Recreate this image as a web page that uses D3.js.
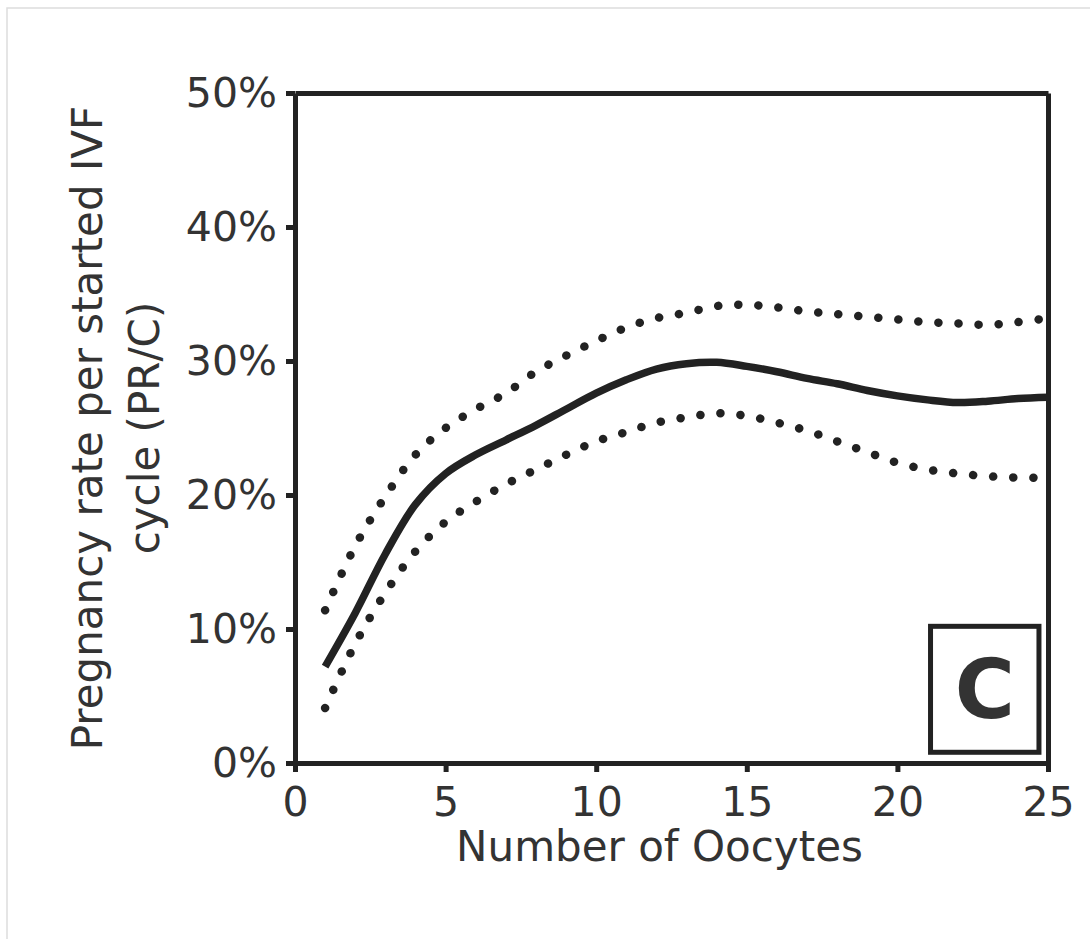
<!DOCTYPE html>
<html>
<head>
<meta charset="utf-8">
<script src="https://cdn.jsdelivr.net/npm/d3@7"></script>
<style>
  html, body { margin: 0; padding: 0; background: #fff; }
  svg { display: block; }
  text { font-family: "DejaVu Sans", Verdana, sans-serif; fill: #333; }
</style>
</head>
<body>
<svg id="chart" width="1090" height="939"></svg>
<script>
// data (x = number of oocytes, y = % pregnancy rate)
const oocytes = [1, 2, 3, 4, 5, 6, 7, 8, 9, 10, 11, 12, 13, 14, 15, 16, 17, 18, 19, 20, 21, 22, 23, 24, 25];
const meanRate = [7.2, 11.2, 15.6, 19.3, 21.6, 23.0, 24.1, 25.2, 26.4, 27.6, 28.6, 29.4, 29.8, 29.9, 29.6, 29.2, 28.7, 28.3, 27.8, 27.4, 27.1, 26.9, 27.0, 27.2, 27.3];
const upperCI = [11.4, 16.2, 19.9, 23.0, 25.0, 26.4, 27.6, 29.2, 30.4, 31.5, 32.5, 33.2, 33.6, 34.1, 34.2, 34.0, 33.7, 33.5, 33.3, 33.1, 32.9, 32.8, 32.7, 32.9, 33.2];
const lowerCI = [4.1, 8.9, 12.7, 15.8, 18.0, 19.5, 20.8, 21.9, 23.0, 24.0, 24.7, 25.4, 25.8, 26.1, 25.9, 25.4, 24.8, 24.0, 23.2, 22.4, 21.9, 21.6, 21.4, 21.3, 21.3];
const xTicks = [0, 5, 10, 15, 20, 25];
const yTicks = [0, 10, 20, 30, 40, 50];
const xTitle = 'Number of Oocytes';
const yTitle = ['Pregnancy rate per started IVF', 'cycle (PR/C)'];
const panelLabel = 'C';

const svg = d3.select('#chart');
const W = 1090, H = 939;
const margin = {top: 93, right: 42, bottom: 176, left: 295};
const innerW = W - margin.left - margin.right, innerH = H - margin.top - margin.bottom;
const ink = '#222';

// faint frame round the picture
svg.append('rect').attr('x', 7).attr('y', 8).attr('width', 1090).attr('height', 960)
  .attr('fill', 'none').attr('stroke', '#ddd').attr('stroke-width', 1.5);

const g = svg.append('g').attr('transform', `translate(${margin.left},${margin.top})`);

const x = d3.scaleLinear().domain([0, 25]).range([0, innerW]);
const y = d3.scaleLinear().domain([0, 50]).range([innerH, 0]);

function styleAxis(sel){
  sel.select('.domain').attr('stroke', ink).attr('stroke-width', 5);
  sel.selectAll('.tick line').attr('stroke', ink).attr('stroke-width', 5);
  sel.selectAll('.tick text').attr('font-size', 41).attr('fill', '#333')
    .attr('font-family', '"DejaVu Sans", Verdana, sans-serif');
}

// box (top + right)
g.append('g').call(d3.axisTop(x).tickValues([]).tickSizeOuter(0)).call(styleAxis);
g.append('g').attr('transform', `translate(${innerW},0)`)
  .call(d3.axisRight(y).tickValues([]).tickSizeOuter(0)).call(styleAxis);

// axes
g.append('g').attr('transform', `translate(0,${innerH})`)
  .call(d3.axisBottom(x).tickValues(xTicks).tickSize(9).tickSizeOuter(0).tickPadding(15))
  .call(styleAxis);
g.append('g')
  .call(d3.axisLeft(y).tickValues(yTicks).tickSize(9).tickSizeOuter(0).tickPadding(9).tickFormat(d => d + '%'))
  .call(styleAxis);

// curves
const line = (vals) => d3.line()
  .x((d, i) => x(oocytes[i]))
  .y(d => y(d))
  .curve(d3.curveCatmullRom.alpha(0.5))(vals);

g.append('path').attr('d', line(upperCI))
  .attr('fill', 'none').attr('stroke', ink).attr('stroke-width', 8.5)
  .attr('stroke-linecap', 'round').attr('stroke-dasharray', '0.1 20');
g.append('path').attr('d', line(lowerCI))
  .attr('fill', 'none').attr('stroke', ink).attr('stroke-width', 8.5)
  .attr('stroke-linecap', 'round').attr('stroke-dasharray', '0.1 20');
g.append('path').attr('d', line(meanRate))
  .attr('fill', 'none').attr('stroke', ink).attr('stroke-width', 7.5);

// panel letter box
const bx0 = x(21.1), bx1 = x(24.7), by0 = y(10.2), by1 = y(0.8);
g.append('rect').attr('x', bx0).attr('y', by0).attr('width', bx1 - bx0).attr('height', by1 - by0)
  .attr('fill', '#fff').attr('stroke', ink).attr('stroke-width', 5);
g.append('text').attr('x', (bx0 + bx1) / 2).attr('y', (by0 + by1) / 2 + 29)
  .attr('text-anchor', 'middle').attr('font-size', 82).attr('font-weight', 'bold')
  .attr('fill', '#1a1a1a').text(panelLabel);

// titles
svg.append('text').attr('x', margin.left + innerW / 2 - 12).attr('y', 861)
  .attr('text-anchor', 'middle').attr('font-size', 42).text(xTitle);

const yMid = margin.top + innerH / 2;
yTitle.forEach((t, i) => {
  svg.append('text')
    .attr('transform', `translate(${102 + i * 57},${yMid}) rotate(-90)`)
    .attr('text-anchor', 'middle').attr('font-size', 42).text(t);
});
</script>
</body>
</html>
